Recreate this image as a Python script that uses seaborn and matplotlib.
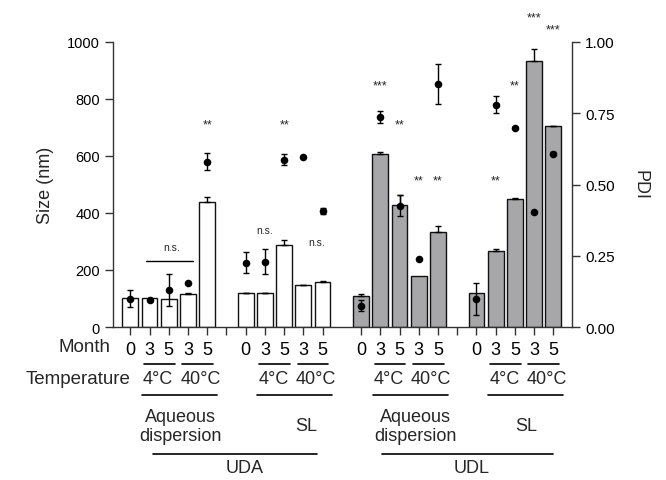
import numpy as np
import pandas as pd
import matplotlib
matplotlib.use("Agg")
import matplotlib.pyplot as plt
import seaborn as sns
from matplotlib.transforms import blended_transform_factory

# ---------------- data ----------------
formulations = ["UDA"] * 10 + ["UDL"] * 10
vehicles = (["Aqueous dispersion"] * 5 + ["SL"] * 5) * 2
months = ["0", "3", "5", "3", "5"] * 4
temps = ["", "4°C", "4°C", "40°C", "40°C"] * 4

size_nm = [103, 102, 98, 116, 437,
           119, 119, 289, 146, 157,
           108, 606, 427, 179, 334,
           119, 266, 449, 933, 704]
size_err = [0, 0, 0, 3, 18,
            2, 2, 16, 3, 3,
            8, 8, 35, 0, 22,
            0, 8, 2, 44, 2]
pdi = [0.100, 0.096, 0.130, 0.154, 0.580,
       0.225, 0.229, 0.587, 0.598, 0.408,
       0.075, 0.737, 0.426, 0.239, 0.852,
       0.098, 0.780, 0.700, 0.405, 0.608]
pdi_err = [0.030, 0.0, 0.057, 0.0, 0.030,
           0.037, 0.044, 0.020, 0.0, 0.010,
           0.020, 0.020, 0.036, 0.0, 0.071,
           0.056, 0.029, 0.0, 0.0, 0.005]

# significance labels: (bar index, text, height in nm)
sig_bar = [4, 6, 7, 9, 11, 12, 13, 14, 16, 17, 18, 19]
sig_text = ["**", "n.s.", "**", "n.s.", "***", "**", "**", "**", "**", "**", "***", "***"]
sig_y = [724, 340, 724, 297, 859, 724, 527, 527, 527, 859, 1098, 1056]

temp_labels = ["4°C", "40°C"]
vehicle_labels = ["Aqueous\ndispersion", "SL", "Aqueous\ndispersion", "SL"]
formulation_labels = ["UDA", "UDL"]

# ---------------- layout ----------------
W, H = 666, 481
pos = [(i // 5) * 6 + (i % 5) for i in range(20)]

sns.set_style("ticks")
plt.rcParams["font.family"] = ["Liberation Sans", "DejaVu Sans"]

fig = plt.figure(figsize=(W / 100, H / 100), dpi=100)
ax = fig.add_axes([113 / W, 1 - 328 / H, (572 - 113) / W, (328 - 43) / H])

df = pd.DataFrame({"pos": pos, "size": size_nm, "formulation": formulations})
sns.barplot(data=df, x="pos", y="size", hue="formulation",
            palette={"UDA": "white", "UDL": "#a6a6aa"},
            native_scale=True, dodge=False, width=0.82,
            edgecolor="#111111", linewidth=1.0, errorbar=None,
            legend=False, ax=ax, zorder=2)

# upward size error bars
p_arr = np.array(pos)
s_arr = np.array(size_nm)
e_arr = np.array(size_err)
m = e_arr > 0
ax.errorbar(p_arr[m], s_arr[m], yerr=[np.zeros(m.sum()), e_arr[m]], fmt="none",
            ecolor="black", elinewidth=1.0, capsize=2.5, capthick=1.0, zorder=3)

ax.set_xlim(-0.9, 22.97)
ax.set_ylim(0, 1000)
ax.set_yticks(range(0, 1001, 200))
ax.set_ylabel("Size (nm)", fontsize=13, labelpad=9)

tick_pos = pos + [5, 17]
tick_lab = months + ["", ""]
ax.set_xticks(tick_pos)
ax.set_xticklabels(tick_lab, fontsize=13)
ax.set_xlabel("")
ax.tick_params(axis="x", length=6, width=1, pad=4, colors="#333333", labelcolor="black")
ax.tick_params(axis="y", length=6, width=1, labelsize=10.5, colors="#333333", labelcolor="black")
for sp in ["left", "bottom"]:
    ax.spines[sp].set_color("#333333")
    ax.spines[sp].set_linewidth(1.0)
ax.spines["top"].set_visible(False)
ax.spines["right"].set_visible(False)

# PDI on twin axis
ax2 = ax.twinx()
pe = np.array(pdi_err)
pv = np.array(pdi)
mp = pe > 0
ax2.errorbar(p_arr[mp], pv[mp], yerr=pe[mp], fmt="none", ecolor="black",
             elinewidth=1.0, capsize=2.5, capthick=1.0, zorder=4)
sns.scatterplot(x=p_arr, y=pv, color="black", s=30, edgecolor="black",
                linewidth=0, ax=ax2, zorder=5)
ax2.set_ylim(0, 1.0)
ax2.set_xlim(-0.9, 22.97)
ax2.set_yticks([0, 0.25, 0.5, 0.75, 1.0])
ax2.set_yticklabels(["0.00", "0.25", "0.50", "0.75", "1.00"])
ax2.tick_params(axis="y", length=6, width=1, labelsize=11, colors="#333333", labelcolor="black")
ax2.set_ylabel("PDI", fontsize=13, rotation=270, labelpad=24)
ax2.spines["right"].set_color("#333333")
ax2.spines["right"].set_linewidth(1.0)
ax2.spines["top"].set_visible(False)
ax2.spines["left"].set_visible(False)
ax2.spines["bottom"].set_visible(False)

# significance marks
for b, t, y in zip(sig_bar, sig_text, sig_y):
    fs = 7.5 if t == "n.s." else 9
    dy = 0 if t == "n.s." else -12
    ax.text(pos[b] - (0.3 if (t == "n.s." and b == 9) else 0), y + dy, t,
            ha="center", va="center", fontsize=fs, clip_on=False, zorder=6)
# n.s. over bars 1-3 of first group
ax.text(2.15, 280, "n.s.", ha="center", va="center", fontsize=7.5)
ax.plot([0.8, 3.25], [233, 233], color="black", lw=1.0)

# ---------------- bottom hierarchical labels ----------------
tr = blended_transform_factory(ax.transData, fig.transFigure)
fy = lambda px: 1 - px / H

fig.text(110 / W, fy(348), "Month", ha="right", va="center", fontsize=13.5)
fig.text(130 / W, fy(380), "Temperature", ha="right", va="center", fontsize=13.5)

for g in range(4):
    s = g * 6
    lkw = dict(color="black", lw=1.2, transform=tr, clip_on=False)
    for a in (1, 3):
        ax.plot([s + a - 0.3, s + a + 1 + 0.3], [fy(365), fy(365)], **lkw)
    ax.text(s + 1.45, fy(380), temp_labels[0], transform=tr, ha="center", va="center", fontsize=13)
    ax.text(s + 3.65, fy(380), temp_labels[1], transform=tr, ha="center", va="center", fontsize=13)
    ax.plot([s + 1 - 0.4, s + 4 + 0.5], [fy(396), fy(396)], **lkw)

vx = [2.6, 9.15, 14.85, 20.6]
for g in range(4):
    ax.text(vx[g], fy(427), vehicle_labels[g], transform=tr, ha="center", va="center",
            fontsize=13, linespacing=1.2)

fx_lines = [(1.2, 9.7), (13.1, 22.0)]
fx_text = [5.97, 17.75]
for k in range(2):
    ax.plot(list(fx_lines[k]), [fy(455), fy(455)], color="black", lw=1.2, transform=tr, clip_on=False)
    ax.text(fx_text[k], fy(469), formulation_labels[k], transform=tr, ha="center", va="center", fontsize=13)

fig.savefig("out.png", dpi=100)
